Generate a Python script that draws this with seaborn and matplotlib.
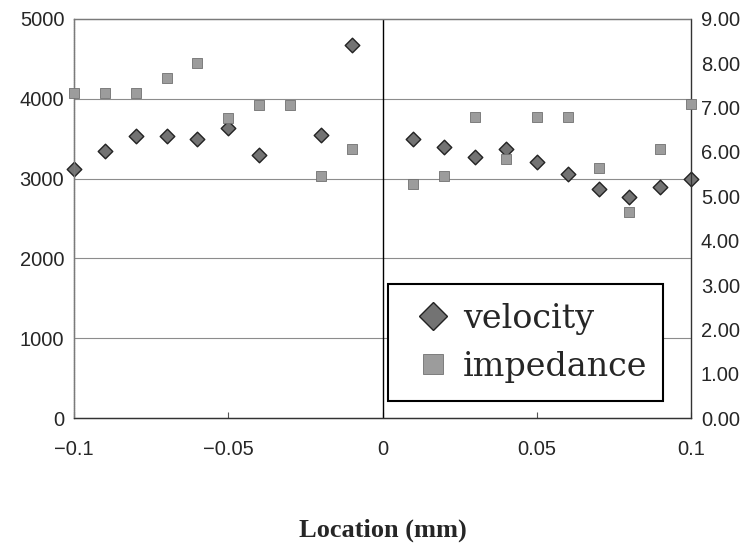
import matplotlib
matplotlib.use("Agg")
import matplotlib.pyplot as plt
from matplotlib.lines import Line2D
import seaborn as sns
import pandas as pd

sns.set_style("white")
plt.rcParams['font.family'] = ['Liberation Sans', 'DejaVu Sans']

vel_x = [-0.1, -0.09, -0.08, -0.07, -0.06, -0.05, -0.04, -0.02, -0.01,
         0.01, 0.02, 0.03, 0.04, 0.05, 0.06, 0.07, 0.08, 0.09, 0.1]
velocity = [3120, 3350, 3535, 3535, 3500, 3635, 3290, 3540, 4670,
            3500, 3390, 3275, 3370, 3210, 3060, 2870, 2775, 2895, 3000]

imp_x = [-0.1, -0.09, -0.08, -0.07, -0.06, -0.05, -0.04, -0.03, -0.02, -0.01,
         0.01, 0.02, 0.03, 0.04, 0.05, 0.06, 0.07, 0.08, 0.09, 0.1]
impedance = [7.33, 7.33, 7.33, 7.67, 8.01, 6.77, 7.05, 7.05, 5.45, 6.06,
             5.27, 5.46, 6.78, 5.85, 6.78, 6.78, 5.63, 4.65, 6.07, 7.08]

x_ticks = [-0.1, -0.05, 0, 0.05, 0.1]
x_tick_labels = ['\u22120.1', '\u22120.05', '0', '0.05', '0.1']
left_ticks = [0, 1000, 2000, 3000, 4000, 5000]
right_ticks = [0, 1, 2, 3, 4, 5, 6, 7, 8, 9]

df_v = pd.DataFrame({'x': vel_x, 'v': velocity})
df_i = pd.DataFrame({'x': imp_x, 'z': impedance})

fig = plt.figure(figsize=(7.49, 5.47), dpi=100)
ax = fig.add_axes([0.0988, 0.2358, 0.824, 0.7295])
ax2 = ax.twinx()

ax.set_xlim(-0.1, 0.1)
ax.set_ylim(0, 5000)
ax2.set_ylim(0, 9)

for g in [1000, 2000, 3000, 4000]:
    ax.axhline(g, color='#8c8c8c', lw=0.8, zorder=0)
ax.axvline(0, color='black', lw=1.0, zorder=1)

sns.scatterplot(data=df_v, x='x', y='v', ax=ax, marker='D', s=55,
                color='#737373', edgecolor='#222222', linewidth=1.0, zorder=3,
                legend=False, clip_on=False)
sns.scatterplot(data=df_i, x='x', y='z', ax=ax2, marker='s', s=60,
                color='#9c9c9c', edgecolor='#707070', linewidth=0.6, zorder=3,
                legend=False, clip_on=False)

ax.set_xticks(x_ticks)
ax.set_xticklabels(x_tick_labels)
ax.set_yticks(left_ticks)
ax.set_yticklabels([str(t) for t in left_ticks])
ax2.set_yticks(right_ticks)
ax2.set_yticklabels([f"{t:.2f}" for t in right_ticks])

ax.tick_params(axis='x', labelsize=14.5, direction='in', length=4, width=0.8,
               color='#555555', pad=16, bottom=True)
ax.tick_params(axis='y', labelsize=14.5, length=0, pad=7)
ax2.tick_params(axis='y', labelsize=14.5, length=0, pad=7)

for a in (ax, ax2):
    for s in a.spines.values():
        s.set_color('#7a7a7a')
        s.set_linewidth(0.9)
    a.spines['top'].set_linestyle((0, (1, 1)))
    a.spines['left'].set_linestyle((0, (1, 0.6)))
ax.spines['bottom'].set_color('#333333')
ax2.spines['bottom'].set_color('#333333')
ax2.spines['right'].set_color('#333333')
ax.set_xlabel('Location (mm)', fontsize=19, fontweight='bold',
              family=['Liberation Serif', 'DejaVu Serif'], labelpad=43)
ax.set_ylabel('')
ax2.set_ylabel('')

h1 = Line2D([], [], marker='D', ls='none', ms=14, markerfacecolor='#737373',
            markeredgecolor='#222222', markeredgewidth=1.0)
h2 = Line2D([], [], marker='s', ls='none', ms=14, markerfacecolor='#9c9c9c',
            markeredgecolor='#707070', markeredgewidth=0.6)
leg = ax2.legend([h1, h2], ['velocity', 'impedance'],
                 loc='center left', bbox_to_anchor=(0.508, 0.04, 0.447, 0.298),
                 mode='expand', prop={'family': ['DejaVu Serif'], 'size': 24},
                 frameon=True, fancybox=False, handletextpad=0.1, borderpad=0.56,
                 labelspacing=0.48, handlelength=1.6, borderaxespad=0)
leg.get_frame().set_edgecolor('black')
leg.get_frame().set_linewidth(1.5)
leg.get_frame().set_alpha(1)
leg.set_zorder(10)

fig.savefig('out.png', dpi=100)
